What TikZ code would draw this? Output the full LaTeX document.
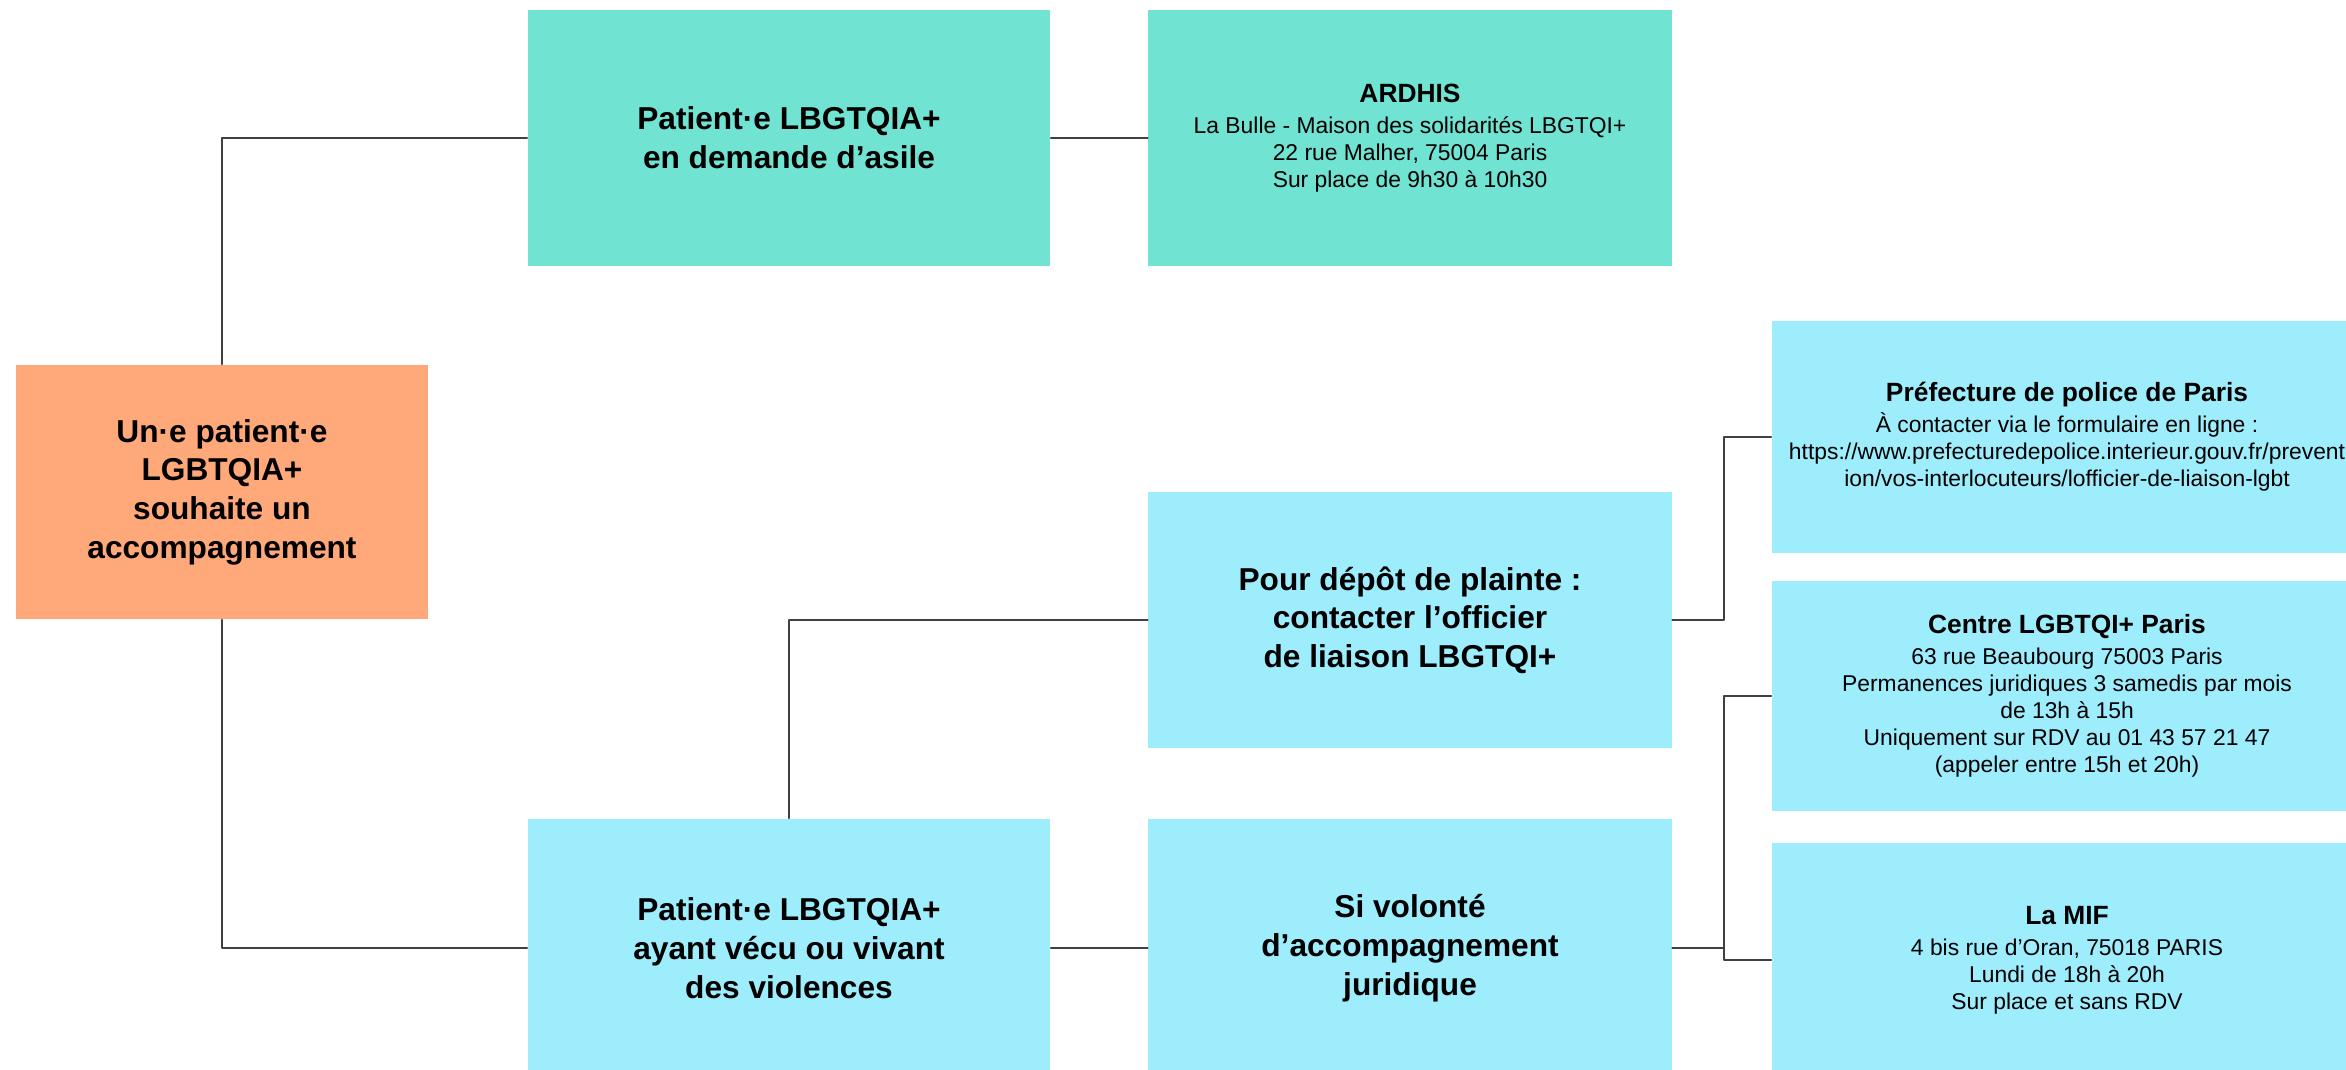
\documentclass[tikz,border=0pt]{standalone}
\usepackage{fontspec}
\setmainfont{Liberation Sans}
\definecolor{tealbox}{HTML}{70E3D2}
\definecolor{cyanbox}{HTML}{9DEDFD}
\definecolor{orangebox}{HTML}{FFA87A}
\definecolor{linegray}{HTML}{404040}
\newcommand{\boxhead}[1]{{\fontsize{7.5}{9}\selectfont\bfseries #1}\\[1.1pt]}

\begin{document}
\begin{tikzpicture}[line cap=round,line join=round,x=0.01cm,y=0.01cm,
  bigbox/.style={inner sep=0pt,align=center,minimum width=5.22cm,minimum height=2.56cm,font=\fontsize{9}{11}\selectfont\bfseries},
  infobox/.style={inner sep=0pt,align=center,minimum width=5.9cm,fill=cyanbox,font=\fontsize{6.5}{7.7}\selectfont},
  link/.style={draw=linegray,line width=0.6pt}]
\useasboundingbox (0,0) rectangle (2346,1069);
\clip (0,0) rectangle (2346,1069);
\node[bigbox,fill=orangebox,minimum width=4.12cm,minimum height=2.54cm] (start) at (222,577) {Un·e patient·e\\LGBTQIA+\\souhaite un\\accompagnement};
\node[bigbox,fill=tealbox] (asile) at (789,931) {Patient·e LBGTQIA+\\en demande d’asile};
\node[infobox,fill=tealbox,minimum width=5.23cm,minimum height=2.56cm] (ardhis) at (1410,931) {\boxhead{ARDHIS}La Bulle - Maison des solidarités LBGTQI+\\22 rue Malher, 75004 Paris\\Sur place de 9h30 à 10h30};
\node[bigbox,fill=cyanbox,minimum width=5.23cm] (plainte) at (1410,449) {Pour dépôt de plainte :\\contacter l’officier\\de liaison LBGTQI+};
\node[bigbox,fill=cyanbox,minimum height=2.58cm] (violences) at (789,121) {Patient·e LBGTQIA+\\ayant vécu ou vivant\\des violences};
\node[bigbox,fill=cyanbox,minimum width=5.23cm,minimum height=2.58cm] (juridique) at (1410,121) {Si volonté\\d’accompagnement\\juridique};
\node[infobox,minimum height=2.31cm] (prefecture) at (2067,632) {\boxhead{Préfecture de police de Paris}À contacter via le formulaire en ligne :\\https://www.prefecturedepolice.interieur.gouv.fr/prevent\\ion/vos-interlocuteurs/lofficier-de-liaison-lgbt};
\node[infobox,minimum height=2.29cm] (centre) at (2067,373) {\boxhead{Centre LGBTQI+ Paris}63 rue Beaubourg 75003 Paris\\Permanences juridiques 3 samedis par mois\\de 13h à 15h\\Uniquement sur RDV au 01 43 57 21 47\\(appeler entre 15h et 20h)};
\node[infobox,minimum height=2.34cm] (mif) at (2067,109) {\boxhead{La MIF}4 bis rue d’Oran, 75018 PARIS\\Lundi de 18h à 20h\\Sur place et sans RDV};
\draw[link] (start.north) |- (asile.west);
\draw[link] (asile.east) -- (ardhis.west);
\draw[link] (start.south) |- (violences.west);
\draw[link] (violences.north) |- (plainte.west);
\draw[link] (violences.east) -- (juridique.west);
\draw[link] (plainte.east) -- ++(52,0) |- (prefecture.west);
\draw[link] (juridique.east) -- ++(52,0) coordinate (fork) |- (centre.west);
\draw[link] (fork) |- (mif.west);
\end{tikzpicture}
\end{document}
